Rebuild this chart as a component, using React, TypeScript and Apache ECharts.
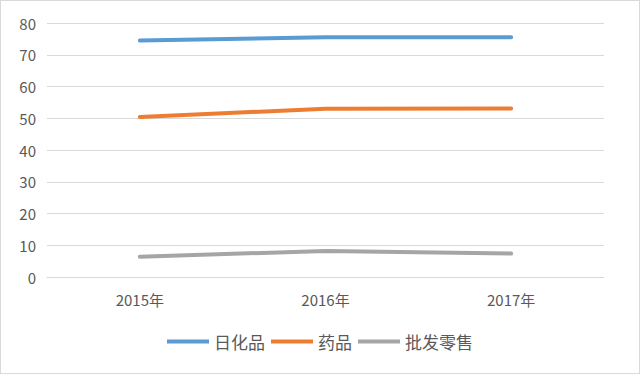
import React, { useEffect, useRef } from "react";
import * as echarts from "echarts";

const categories = ["2015年", "2016年", "2017年"];
const seriesNames = ["日化品", "药品", "批发零售"];
const dailyChem = [74.5, 75.5, 75.5];
const medicine = [50.4, 53.0, 53.1];
const wholesale = [6.4, 8.2, 7.4];
const colors = ["#5b9bd5", "#ed7d31", "#a5a5a5"];

export default function App() {
  const ref = useRef<HTMLDivElement>(null);
  useEffect(() => {
    document.body.style.margin = "0";
    const chart = echarts.init(ref.current!, null, { renderer: "svg" });
    const font = "'Noto Sans CJK SC', 'Microsoft YaHei', sans-serif";
    const values = [dailyChem, medicine, wholesale];
    chart.setOption({
      animation: false,
      backgroundColor: "#ffffff",
      grid: { left: 46, right: 35, top: 22, bottom: 96, containLabel: false },
      legend: {
        bottom: 18,
        left: "center",
        icon: "rect",
        itemWidth: 42,
        itemHeight: 4,
        itemGap: 6,
        textStyle: { fontFamily: font, fontSize: 17, color: "#595959" },
        data: seriesNames,
      },
      xAxis: {
        type: "category",
        data: categories,
        boundaryGap: true,
        axisLine: { lineStyle: { color: "#d9d9d9", width: 1 } },
        axisTick: { show: false },
        axisLabel: { color: "#595959", fontFamily: font, fontSize: 15, margin: 15 },
      },
      yAxis: {
        type: "value",
        min: 0,
        max: 80,
        interval: 10,
        axisLine: { show: false },
        axisTick: { show: false },
        axisLabel: { color: "#595959", fontFamily: font, fontSize: 15, margin: 11 },
        splitLine: { lineStyle: { color: "#d9d9d9", width: 1 } },
      },
      series: seriesNames.map((name, i) => ({
        name,
        type: "line",
        data: values[i],
        symbol: "none",
        color: colors[i],
        lineStyle: { width: 4, color: colors[i], cap: "round" },
      })),
    });
    return () => chart.dispose();
  }, []);
  return (
    <div
      ref={ref}
      style={{
        width: 640,
        height: 374,
        boxSizing: "border-box",
        border: "1px solid #d9d9d9",
      }}
    />
  );
}
